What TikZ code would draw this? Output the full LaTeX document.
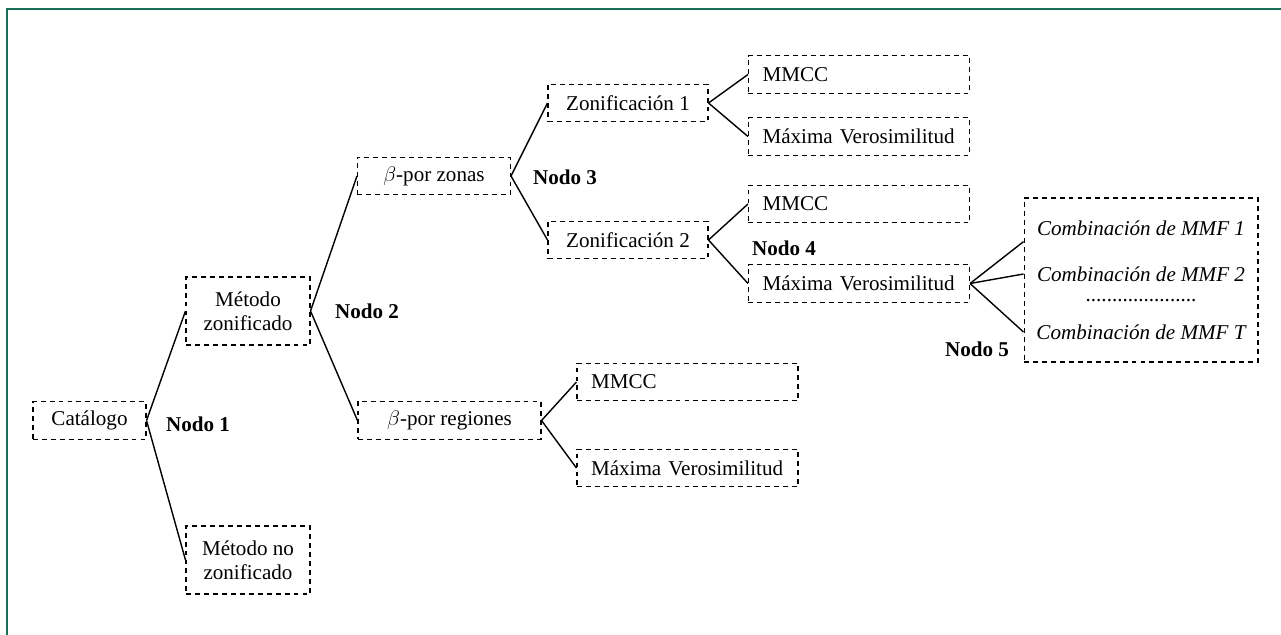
\documentclass[tikz,border=0pt]{standalone}
\usepackage{fontspec}
\setmainfont{Liberation Serif}
\definecolor{marco}{RGB}{22,112,88}

\begin{document}
\begin{tikzpicture}[x=0.02cm,y=-0.02cm,
    font=\fontsize{12}{13.5}\selectfont,
    caja/.style={draw,line width=0.6pt,dash pattern=on 2.8pt off 2.3pt,minimum height=0.75cm,inner sep=2pt},
    hoja/.style={caja,text width=109.8pt,align=left,inner xsep=8pt},
    doble/.style={caja,align=center,minimum width=2.48cm,minimum height=1.36cm},
    etiq/.style={font=\fontsize{12}{13.5}\selectfont\bfseries},
    comb/.style={font=\fontsize{12}{13.5}\selectfont\itshape}]
    \useasboundingbox (0,0) rectangle (1281,635);
    \draw[marco,line width=1.7pt] (1281,9) -| (7,635);

    \node[caja,minimum width=2.26cm] (cat) at (89.5,420.5) {Catálogo};
    \node[doble] (mz) at (248,311) {Método\\zonificado};
    \node[doble] (mnz) at (248,560) {Método no\\zonificado};
    \node[caja,minimum width=3.06cm] (bz) at (434,176) {$\beta$-por zonas};
    \node[caja,minimum width=3.66cm] (br) at (449.5,420.5) {$\beta$-por regiones};
    \node[caja,minimum width=3.2cm] (z1) at (628,103) {Zonificación 1};
    \node[caja,minimum width=3.2cm] (z2) at (628,240) {Zonificación 2};

    \node[hoja] (mc1) at (859,74.5) {MMCC};
    \node[hoja] (mv1) at (859,136.5) {Máxima Verosimilitud};
    \node[hoja] (mc2) at (859,204) {MMCC};
    \node[hoja] (mv2) at (859,283.5) {Máxima Verosimilitud};
    \node[hoja] (mc3) at (687.5,382) {MMCC};
    \node[hoja] (mv3) at (687.5,468) {Máxima Verosimilitud};

    \node[caja,minimum width=4.68cm,minimum height=3.28cm] (cmb) at (1141,280) {};
    \node[comb] (c1) at (1141,228) {Combinación de MMF 1};
    \node[comb] (c2) at (1141,274) {Combinación de MMF 2};
    \node (pts) at (1141,301) {.....................};
    \node[comb] (cT) at (1141,332) {Combinación de MMF T};

    \node[etiq] (n1) at (198,424) {Nodo 1};
    \node[etiq] (n2) at (367,311) {Nodo 2};
    \node[etiq] (n3) at (565,177) {Nodo 3};
    \node[etiq] (n4) at (784,248) {Nodo 4};
    \node[etiq] (n5) at (977,349) {Nodo 5};

    \coordinate (e1) at (cmb.west |- c1.south);
    \coordinate (e2) at (cmb.west |- c2);
    \coordinate (eT) at (cmb.west |- cT);

    \path[line width=0.8pt]
    (cat.east) edge (mz.west) edge (mnz.west)
    (mz.east) edge (bz.west) edge (br.west)
    (bz.east) edge (z1.west) edge (z2.west)
    (z1.east) edge (mc1.west) edge (mv1.west)
    (z2.east) edge (mc2.west) edge (mv2.west)
    (br.east) edge (mc3.west) edge (mv3.west)
    (mv2.east) edge (e1) edge (e2) edge (eT);
\end{tikzpicture}
\end{document}
